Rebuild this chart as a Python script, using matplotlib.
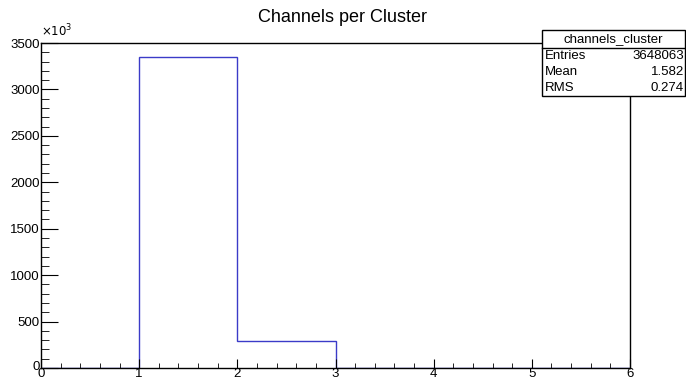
import matplotlib
matplotlib.use("Agg")
import matplotlib.pyplot as plt
import matplotlib.transforms as transforms
from matplotlib.patches import Rectangle
from matplotlib.ticker import MultipleLocator, FuncFormatter
import numpy as np

plt.rcParams['font.family'] = ['Liberation Sans', 'DejaVu Sans']

# histogram data (channels per cluster)
bin_edges = [0, 1, 2, 3, 4, 5, 6]
counts = [0, 3345000, 295000, 0, 0, 0]
hist_name = 'channels_cluster'
stats_labels = ['Entries', 'Mean', 'RMS']
stats_values = ['3648063', '1.582', '0.274']

fig = plt.figure(figsize=(6.86, 3.82), dpi=100)
ax = fig.add_axes([41/686, 14/382, (630-41)/686, (368-43)/382])

ax.stairs(counts, bin_edges, color='#3b3bc8', lw=1.0)

ax.set_xlim(0, 6)
ax.set_ylim(0, 3500000)
ax.xaxis.set_major_locator(MultipleLocator(1))
ax.xaxis.set_minor_locator(MultipleLocator(0.2))
ax.yaxis.set_major_locator(MultipleLocator(500000))
ax.yaxis.set_minor_locator(MultipleLocator(100000))
ax.yaxis.set_major_formatter(FuncFormatter(lambda v, p: '%d' % round(v/1000)))
ax.tick_params(axis='both', which='both', direction='in', labelsize=9.5, colors='black')
ax.tick_params(axis='y', which='major', length=12, pad=1)
ax.tick_params(axis='y', which='minor', length=6)
ax.tick_params(axis='x', which='major', length=6.5, pad=0)
ax.tick_params(axis='x', which='minor', length=3.6)
for s in ax.spines.values():
    s.set_linewidth(1.0)

# nudge the y "0" label up a little so it doesn't sit on the x "0"
fig.canvas.draw()
lift = transforms.ScaledTranslation(0, 3/100, fig.dpi_scale_trans)
for t in ax.yaxis.get_major_ticks():
    if abs(t.get_loc()) < 1:
        t.label1.set_transform(t.label1.get_transform() + lift)

fig.text(41/686, 1 - 39/382, r'$\times10^{3}$', fontsize=8.5, ha='left', va='bottom')
fig.text(343/686, 1 - 18/382, 'Channels per Cluster', fontsize=13, ha='center', va='center')

# stats box
bx0, bx1 = 542/686, 685/686
by_top, by_sep, by_bot = 1 - 30/382, 1 - 48/382, 1 - 96/382
fig.patches.append(Rectangle((bx0, by_bot), bx1 - bx0, by_top - by_bot, transform=fig.transFigure,
                             facecolor='white', edgecolor='black', lw=1.0, zorder=5))
fig.add_artist(plt.Line2D([bx0, bx1], [by_sep, by_sep], transform=fig.transFigure, color='black', lw=1.0, zorder=6))
fig.text((bx0 + bx1) / 2, (by_top + by_sep) / 2, hist_name, fontsize=9.5, ha='center', va='center', zorder=7)
row_h = (by_sep - by_bot) / 3
for i, (lab, val) in enumerate(zip(stats_labels, stats_values)):
    y = by_sep - row_h * (i + 0.5)
    fig.text(bx0 + 3/686, y, lab, fontsize=9.5, ha='left', va='center', zorder=7)
    fig.text(bx1 - 1/686, y, val, fontsize=9.5, ha='right', va='center', zorder=7)

fig.savefig('out.png', dpi=100)
